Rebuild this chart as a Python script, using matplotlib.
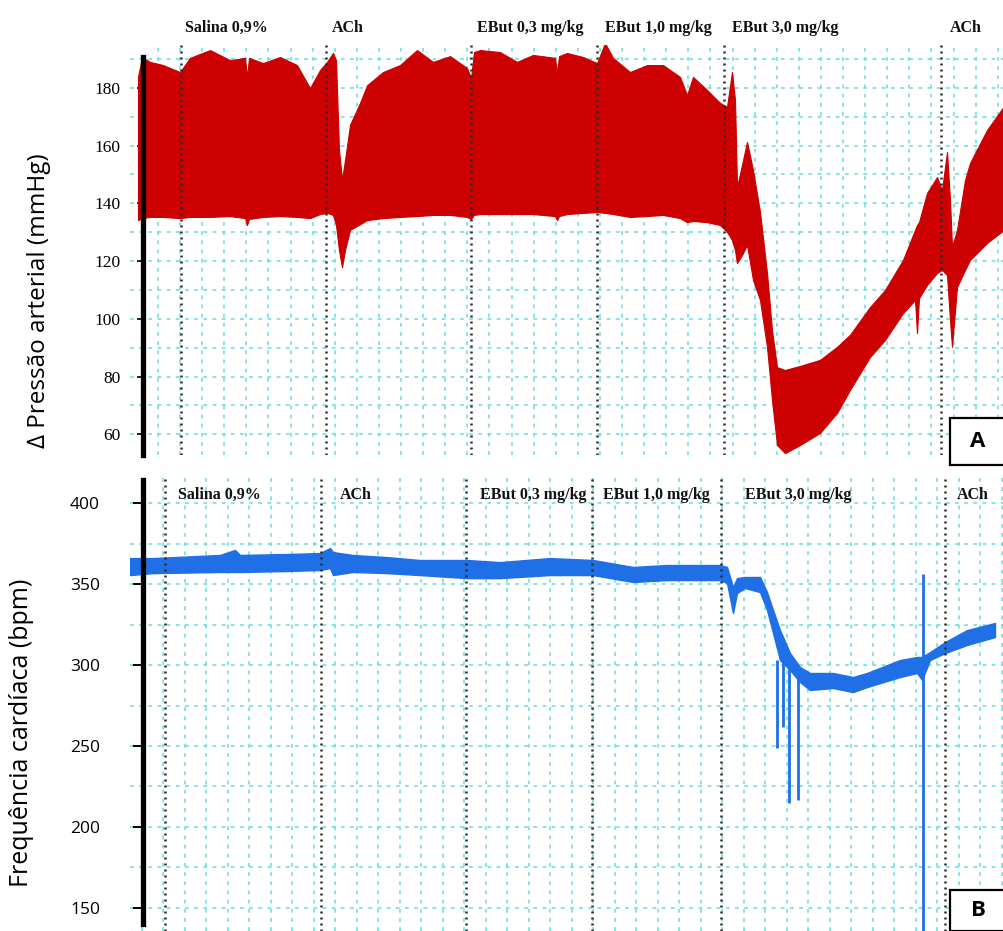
import numpy as np
import matplotlib
matplotlib.use('Agg')
import matplotlib.pyplot as plt
from matplotlib.patches import Rectangle

# tempo do registro em unidades arbitrarias (0 = inicio do traçado)
t_pa = [0, 4, 12, 25, 42, 52, 72, 92, 107, 109, 111, 125, 142, 159, 172, 182, 189, 195,
        198, 201, 204, 207, 212, 222, 229, 245, 262, 279, 295, 312, 329, 333, 336, 342,
        362, 379, 395, 417, 419, 421, 429, 445, 459, 467, 475, 492, 509, 525, 542, 549,
        555, 569, 582, 589, 594, 597, 599, 604, 609, 615, 622, 629, 634, 639, 647, 662,
        682, 699, 712, 732, 747, 765, 777, 779, 781, 789, 799, 804, 809, 812, 814, 819,
        827, 832, 849, 866]
# pressao sistolica (envelope superior) e diastolica (envelope inferior), mmHg
pa_sup = [183.8, 190.7, 189.0, 187.9, 185.5, 190.4, 193.1, 189.6, 190.4, 183.8, 190.4,
          188.6, 190.7, 187.9, 179.9, 186.2, 189.0, 192.1, 189.6, 158.5, 148.1, 155.0,
          167.2, 174.8, 180.9, 185.5, 187.9, 193.1, 189.0, 191.0, 186.9, 183.4, 192.4,
          193.1, 192.4, 189.0, 191.4, 190.4, 185.2, 191.0, 192.1, 190.7, 188.6, 195.5,
          190.4, 185.5, 187.9, 187.9, 183.8, 177.5, 183.8, 179.3, 174.8, 173.4, 185.5,
          175.8, 145.7, 153.3, 161.3, 151.5, 137.0, 115.9, 96.1, 83.3, 82.3, 83.7, 85.8,
          90.3, 94.5, 104.1, 110.0, 120.4, 130.8, 132.5, 133.5, 143.6, 149.1, 144.6,
          157.8, 141.2, 124.9, 130.8, 148.1, 154.0, 165.4, 173.7]
pa_inf = [134.2, 134.9, 135.3, 135.3, 134.9, 135.3, 135.3, 135.6, 134.9, 132.5, 134.6,
          135.3, 135.6, 135.3, 134.9, 136.3, 136.7, 136.0, 132.5, 123.8, 117.9, 123.8,
          130.8, 132.8, 134.2, 134.9, 135.3, 135.6, 136.0, 136.0, 135.3, 134.6, 136.0,
          136.3, 136.3, 136.3, 136.3, 135.6, 134.2, 135.6, 136.3, 136.7, 137.0, 136.7,
          136.3, 135.3, 135.6, 136.0, 134.9, 133.5, 133.9, 133.5, 132.5, 130.1, 127.3,
          123.8, 119.3, 122.1, 125.6, 113.5, 106.5, 90.3, 71.9, 56.3, 53.5, 56.3, 60.5,
          67.4, 75.4, 86.8, 92.7, 102.0, 106.5, 95.1, 107.2, 111.7, 115.9, 116.9, 115.2,
          99.6, 90.3, 111.0, 116.9, 120.4, 126.3, 130.8]

# frequencia cardiaca (bpm)
t_fc = [-8, 15, 82, 97, 102, 149, 182, 192, 195, 215, 249, 282, 329, 362, 412, 455, 495,
        529, 582, 589, 595, 599, 607, 622, 629, 635, 642, 652, 662, 672, 695, 715, 729,
        762, 779, 784, 792, 807, 829, 857]
fc_sup = [366.1, 366.1, 368.0, 371.1, 368.0, 368.6, 369.2, 372.3, 369.8, 368.0, 366.7,
          364.9, 364.9, 363.6, 366.1, 364.9, 360.6, 361.8, 361.8, 360.6, 348.2, 353.7,
          354.4, 354.4, 345.1, 334.0, 321.6, 307.4, 298.8, 295.1, 295.1, 292.6, 295.1,
          303.1, 305.0, 305.0, 308.0, 314.2, 321.6, 326.0]
fc_inf = [355.6, 356.8, 357.5, 357.5, 357.5, 358.1, 358.7, 359.9, 355.6, 357.5, 356.8,
          355.6, 353.7, 353.7, 355.6, 355.6, 351.3, 352.5, 352.5, 350.7, 332.1, 344.5,
          347.6, 345.1, 334.0, 319.8, 303.1, 296.9, 289.5, 284.6, 285.8, 283.3, 286.4,
          292.6, 295.1, 290.8, 303.1, 307.4, 312.4, 317.3]
# artefatos (picos) no registro de FC
pico_t = [639, 645, 651, 660, 785]
pico_min = [248.8, 261.7, 214.8, 216.6, 120.0]
pico_max = [303.0, 303.0, 300.0, 298.0, 356.0]

rotulos = ['Salina 0,9%', 'ACh', 'EBut 0,3 mg/kg', 'EBut 1,0 mg/kg', 'EBut 3,0 mg/kg', 'ACh']
eventos_pa = [43, 188, 333, 459, 586, 803]
rot_pa_t = [47, 194, 339, 467, 594, 812]
eventos_fc = [27, 183, 328, 454, 583, 807]
rot_fc_t = [40, 202, 342, 465, 607, 819]

W, H = 1004, 931
fig = plt.figure(figsize=(W / 100, H / 100), dpi=100)
fig.patch.set_facecolor('white')


def eixo(left, top, right, bottom):
    return fig.add_axes([left / W, 1 - bottom / H, (right - left) / W, (bottom - top) / H])


grade = dict(color='#66dede', lw=1.1, ls=(0, (2.5, 3.5)), zorder=1)
marca = dict(color='#2a2a2a', lw=1.8, ls=(0, (0.8, 1.6)), zorder=4)

# ---- painel A: pressao arterial ----
ax1 = eixo(130, 45, 1004, 455)
ax1.set_xlim(-8, 866)
ax1.set_ylim(52.85, 194.85)
for y in np.arange(60, 191, 10):
    ax1.axhline(y, **grade)
for x in np.arange(20, 866, 22.1):
    ax1.axvline(x, **grade)
ax1.fill_between(t_pa, pa_inf, pa_sup, color='#cc0000', lw=0.8, ec='#cc0000', zorder=2)
for x in eventos_pa:
    ax1.axvline(x, **marca)
for x, txt in zip(rot_pa_t, rotulos):
    ax1.text(x, 200.7, txt, ha='left', va='center', fontsize=11.5, fontweight='bold',
             family='Liberation Serif', color='#111111')

# ---- painel B: frequencia cardiaca ----
ax2 = eixo(130, 476, 1004, 931)
ax2.set_xlim(-8, 866)
ax2.set_ylim(135.7, 416.8)
for y in np.arange(150, 401, 25):
    ax2.axhline(y, **grade)
for x in np.arange(4, 866, 21.5):
    ax2.axvline(x, **grade)
ax2.fill_between(t_fc, fc_inf, fc_sup, color='#1f6fe6', lw=1.0, ec='#1f6fe6', zorder=2)
ax2.vlines(pico_t, pico_min, pico_max, color='#1f6fe6', lw=2.0, zorder=2)
for x in eventos_fc:
    ax2.axvline(x, **marca)
for x, txt in zip(rot_fc_t, rotulos):
    ax2.text(x, 405.0, txt, ha='left', va='center', fontsize=11.5, fontweight='bold',
             family='Liberation Serif', color='#111111', zorder=5)

# eixo vertical como barra preta grossa
for ax, lim in ((ax1, (52.85, 190.7)), (ax2, (140.1, 414.2))):
    for s in ('top', 'right', 'bottom'):
        ax.spines[s].set_visible(False)
    ax.spines['left'].set_position(('data', 5))
    ax.spines['left'].set_linewidth(3.8)
    ax.spines['left'].set_bounds(*lim)
    ax.spines['left'].set_zorder(6)
    ax.set_xticks([])
    ax.patch.set_alpha(0)

ax1.set_yticks(np.arange(60, 181, 20))
ax1.tick_params(axis='y', direction='out', length=4, width=1.2, pad=12)
for lb in ax1.get_yticklabels():
    lb.set_family('Liberation Serif')
    lb.set_fontsize(12.5)

ax2.set_yticks(np.arange(150, 401, 50))
ax2.tick_params(axis='y', direction='out', length=7, width=1.4, pad=24)
for lb in ax2.get_yticklabels():
    lb.set_family('Open Sans')
    lb.set_fontsize(12.5)

fig.text(39 / W, 1 - 301 / H, '∆ Pressão arterial (mmHg)', rotation=90, ha='center',
         va='center', fontsize=17.5, family=['Open Sans', 'DejaVu Sans'])
fig.text(22 / W, 1 - 733 / H, 'Frequência cardíaca (bpm)', rotation=90, ha='center',
         va='center', fontsize=18, family=['Open Sans', 'DejaVu Sans'])

# caixas de identificacao dos paineis
for y0, y1, letra in ((418, 465, 'A'), (890, 931, 'B')):
    fig.patches.append(Rectangle((950 / W, 1 - y1 / H), 60 / W, (y1 - y0) / H,
                                 transform=fig.transFigure, fc='white', ec='black',
                                 lw=1.6, zorder=10))
    fig.text(978 / W, 1 - (y0 + y1) / 2 / H, letra, ha='center', va='center',
             fontsize=16, fontweight='bold', family='Open Sans', zorder=11)

fig.savefig('out.png', dpi=100)
